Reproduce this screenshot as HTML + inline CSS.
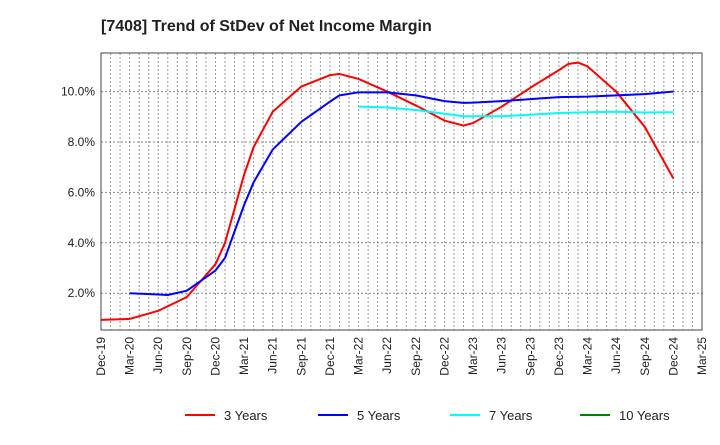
<!DOCTYPE html>
<html><head><meta charset="utf-8"><style>
body{margin:0;background:#fff;font-family:"Liberation Sans",sans-serif;}
svg text{font-family:"Liberation Sans",sans-serif;}
</style></head><body>
<svg id="c" width="720" height="440" xmlns="http://www.w3.org/2000/svg">
<text x="101" y="31" font-size="16" font-weight="bold" fill="#222">[7408]  Trend of StDev of Net Income Margin</text>
<g id="grid"></g><g id="series"></g><g id="axes"></g><g id="legend"></g>
</svg>
<script>
const xLabels=["Dec-19","Mar-20","Jun-20","Sep-20","Dec-20","Mar-21","Jun-21","Sep-21","Dec-21","Mar-22","Jun-22","Sep-22","Dec-22","Mar-23","Jun-23","Sep-23","Dec-23","Mar-24","Jun-24","Sep-24","Dec-24","Mar-25"];
const yTicks=[2,4,6,8,10];
const m3=[0,3,6,9,12,13,15,16,18,21,24,25,27,30,33,36,38,39,42,45,48,49,50,51,54,57,60];
const v3=[0.94,0.98,1.3,1.85,3.15,4.0,6.7,7.8,9.2,10.2,10.65,10.7,10.5,10.0,9.45,8.85,8.65,8.75,9.4,10.15,10.85,11.1,11.15,11.0,10.0,8.6,6.55];
const m5=[3,6,7,9,12,13,15,16,18,21,24,25,27,30,33,36,38,39,42,45,48,51,54,57,60];
const v5=[2.0,1.95,1.93,2.1,2.9,3.4,5.5,6.4,7.7,8.8,9.6,9.85,9.97,9.97,9.85,9.62,9.55,9.56,9.62,9.7,9.78,9.8,9.85,9.9,10.0];
const m7=[27,30,33,36,38,42,45,48,51,54,57,60];
const v7=[9.4,9.37,9.27,9.12,9.02,9.02,9.08,9.15,9.18,9.2,9.17,9.18];
const m10=[];const v10=[];
const L=101,R=702,T=53,B=330,yMin=0.54,yMax=11.53;
const X=m=>L+(R-L)*m/63;
const Y=v=>B-(B-T)*(v-yMin)/(yMax-yMin);
const NS="http://www.w3.org/2000/svg";
function mk(t,a,p){const e=document.createElementNS(NS,t);for(const k in a)e.setAttribute(k,a[k]);p.appendChild(e);return e;}
const g=document.getElementById('grid');
for(let m=1;m<63;m++){const l=mk('line',{x1:X(m),x2:X(m),y1:T,y2:B,stroke:'#999','stroke-dasharray':'2,2','stroke-width':1},g);

}
yTicks.forEach(v=>{const l=mk('line',{x1:L,x2:R,y1:Y(v),y2:Y(v),stroke:'#888','stroke-dasharray':'2,2','stroke-width':1},g);

});
const a=document.getElementById('axes');
const fr=mk('rect',{x:L,y:T,width:R-L,height:B-T,fill:'none',stroke:'#444','stroke-width':1},a);


yTicks.forEach(v=>{const t=mk('text',{x:L-6,y:Y(v)+4,'text-anchor':'end','font-size':12,fill:'#222'},a);t.textContent=v.toFixed(1)+'%';

});
xLabels.forEach((s,i)=>{const x=X(i*3);const t=mk('text',{x:0,y:0,'text-anchor':'end','font-size':12,fill:'#222',transform:`translate(${x+4},${B+7}) rotate(-90)`},a);t.textContent=s;

});
const s=document.getElementById('series');
function line(ms,vs,c,n){if(!ms.length)return;const p=mk('polyline',{points:ms.map((m,i)=>X(m)+','+Y(vs[i])).join(' '),fill:'none',stroke:c,'stroke-width':2,'stroke-linejoin':'round'},s);

}
line(m3,v3,'#ff0000','series-3-years');
line(m5,v5,'#0000ff','series-5-years');
line(m7,v7,'#00ffff','series-7-years');
line(m10,v10,'#008000','series-10-years');
const lg=document.getElementById('legend');
[['3 Years','#ff0000',185],['5 Years','#0000ff',318],['7 Years','#00ffff',450],['10 Years','#008000',580]].forEach(([n,c,x])=>{
const l=mk('line',{x1:x,x2:x+30,y1:415,y2:415,stroke:c,'stroke-width':2},lg);


const t=mk('text',{x:x+39,y:420,'font-size':13,fill:'#222'},lg);t.textContent=n;

});
</script>
</body></html>
